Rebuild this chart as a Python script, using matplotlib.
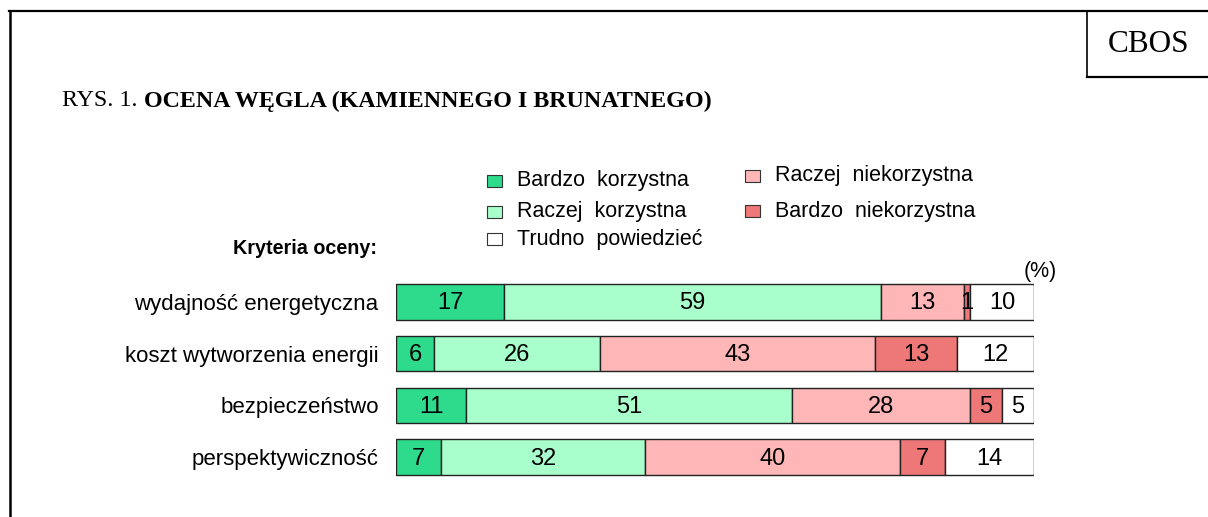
import matplotlib
matplotlib.use('Agg')
import matplotlib.pyplot as plt
from matplotlib.lines import Line2D
from matplotlib.patches import Rectangle

criteria = ['wydajność energetyczna', 'koszt wytworzenia energii', 'bezpieczeństwo', 'perspektywiczność']
series = ['Bardzo  korzystna', 'Raczej  korzystna', 'Raczej  niekorzystna', 'Bardzo  niekorzystna', 'Trudno  powiedzieć']
bardzo_korzystna = [17, 6, 11, 7]
raczej_korzystna = [59, 26, 51, 32]
raczej_niekorzystna = [13, 43, 28, 40]
bardzo_niekorzystna = [1, 13, 5, 7]
trudno_powiedziec = [10, 12, 5, 14]
values = [bardzo_korzystna, raczej_korzystna, raczej_niekorzystna, bardzo_niekorzystna, trudno_powiedziec]
colors = ['#2edb8c', '#a8ffcc', '#ffb6b6', '#ee7777', '#ffffff']

W, H = 1208, 517
plt.rcParams['font.family'] = ['Liberation Sans', 'DejaVu Sans']
fig = plt.figure(figsize=(W / 100, H / 100), dpi=100)

def fx(x):
    return x / W

def fy(y):
    return 1 - y / H

# frame and CBOS box
fig.add_artist(Line2D([fx(9), 1], [fy(11), fy(11)], color='black', lw=1.6))
fig.add_artist(Line2D([fx(10), fx(10)], [fy(11), 0], color='black', lw=1.8))
fig.add_artist(Line2D([fx(1087), fx(1087)], [fy(11), fy(77)], color='black', lw=1.2))
fig.add_artist(Line2D([fx(1087), 1], [fy(77), fy(77)], color='black', lw=1.6))
fig.text(fx(1149), fy(44), 'CBOS', ha='center', va='center', fontsize=22.5, family='Liberation Serif')

# title
t = fig.text(fx(62), fy(101), 'RYS. 1. ', ha='left', va='center', fontsize=17.3, family='Liberation Serif')
fig.canvas.draw()
bb = t.get_window_extent()
fig.text(bb.x1 / W, fy(101), 'OCENA WĘGLA (KAMIENNEGO I BRUNATNEGO)', ha='left', va='center',
         fontsize=17.3, family='Liberation Serif', weight='bold')

# legend
leg_pos = [(487, 181), (487, 212), (745, 176), (745, 211), (487, 239)]
for name, col, (lx, ly) in zip(series, colors, leg_pos):
    fig.add_artist(Rectangle((fx(lx), fy(ly + 6)), 15 / W, 12 / H, transform=fig.transFigure,
                             facecolor=col, edgecolor='#333333', lw=0.8))
    fig.text(fx(lx + 30), fy(ly), name, ha='left', va='center', fontsize=15.5)

fig.text(fx(305), fy(249), 'Kryteria oceny:', ha='center', va='center', fontsize=14.2, weight='bold')
fig.text(fx(1040), fy(271), '(%)', ha='center', va='center', fontsize=15.5)

# bars
ax = fig.add_axes([fx(396), fy(483), (1034 - 396) / W, (483 - 276) / H])
ypos = list(range(len(criteria)))
left = [0] * len(criteria)
for vals, col in zip(values, colors):
    ax.barh(ypos, vals, left=left, height=0.69, color=col, edgecolor='#222222', lw=1)
    for y, v, l in zip(ypos, vals, left):
        ax.text(l + v / 2, y + 0.03, str(v), ha='center', va='center', fontsize=17)
    left = [a + b for a, b in zip(left, vals)]

ax.set_xlim(0, 100)
ax.set_ylim(3.5, -0.5)
ax.set_yticks(ypos)
ax.set_yticklabels(criteria, fontsize=16)
ax.tick_params(axis='y', length=0, pad=12.5)
ax.set_xticks([])
for s in ax.spines.values():
    s.set_visible(False)

fig.savefig('out.png', dpi=100)
